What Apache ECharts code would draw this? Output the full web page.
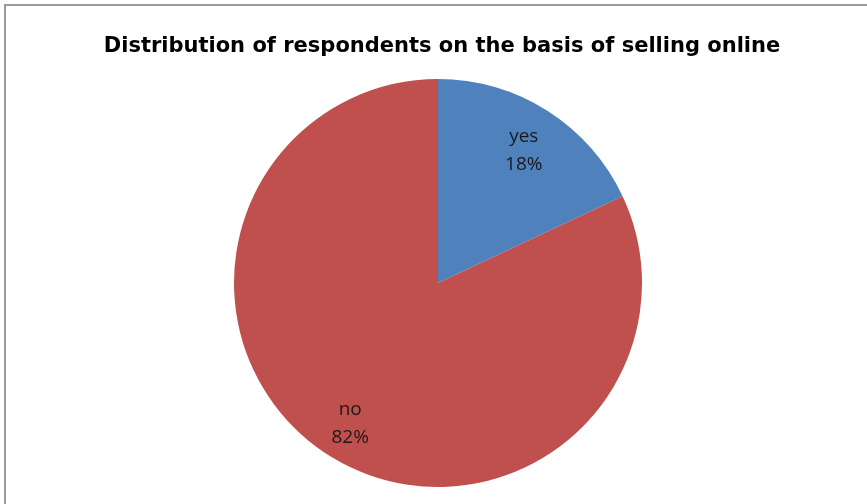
<!DOCTYPE html>
<html>
<head>
<meta charset="utf-8">
<script src="https://cdn.jsdelivr.net/npm/echarts@6/dist/echarts.min.js"></script>
<style>
html,body{margin:0;padding:0;background:#fff;}
#main{width:867px;height:504px;}
</style>
</head>
<body>
<div id="main"></div>
<script>
var titleText = 'Distribution of respondents on the basis of selling online';
var categories = ['yes', 'no'];
var values = [18, 82];
var colors = ['#4F81BD', '#C0504D'];

var chart = echarts.init(document.getElementById('main'), null, {renderer: 'canvas'});
var data = categories.map(function (c, i) {
  return {name: c, value: values[i], itemStyle: {color: colors[i]}};
});
var ghost = categories.map(function (c, i) {
  return {name: c, value: values[i]};
});
chart.setOption({
  animation: false,
  backgroundColor: '#fff',
  title: {
    text: titleText,
    left: 437,
    top: 42,
    textAlign: 'center',
    textVerticalAlign: 'middle',
    textStyle: {fontFamily: 'DejaVu Sans', fontWeight: 'bold', fontSize: 21, color: '#000'}
  },
  graphic: [{
    type: 'rect',
    shape: {x: 5, y: 5, width: 900, height: 600},
    style: {fill: 'none', stroke: '#9a9a9a', lineWidth: 2},
    silent: true
  }],
  series: [{
    type: 'pie',
    center: [438, 283],
    radius: [0, 204],
    startAngle: 90,
    clockwise: true,
    label: {show: false},
    labelLine: {show: false},
    silent: true,
    itemStyle: {borderWidth: 0},
    data: data
  }, {
    type: 'pie',
    center: [437, 287],
    radius: [114, 204],
    startAngle: 90,
    clockwise: true,
    silent: true,
    itemStyle: {color: 'rgba(0,0,0,0)', borderWidth: 0},
    labelLine: {show: false},
    label: {
      show: true,
      position: 'inside',
      formatter: function (p) { return p.name + '\n' + p.value + '%'; },
      fontFamily: 'Open Sans',
      fontSize: 19,
      lineHeight: 28,
      color: '#1a1a1a',
      textBorderWidth: 0
    },
    data: ghost
  }]
});
</script>
</body>
</html>
